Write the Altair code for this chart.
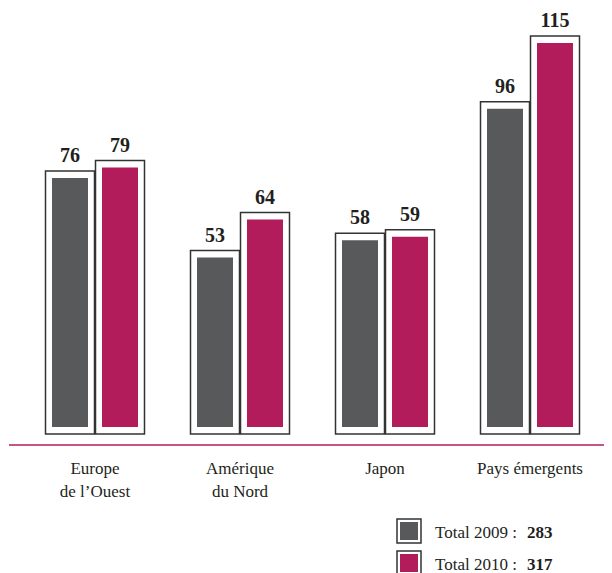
import altair as alt
import pandas as pd

categories = ["Europe de l’Ouest", "Amérique du Nord", "Japon", "Pays émergents"]
cat_labels = ["Europe\nde l’Ouest", "Amérique\ndu Nord", "Japon", "Pays émergents"]
years = ["2009", "2010"]
values_2009 = [76, 53, 58, 96]
values_2010 = [79, 64, 59, 115]
legend_labels = ["Total 2009 :", "Total 2010 :"]
totals = [283, 317]
colors = ["#58595b", "#b21c5b"]

rows = []
for i, c in enumerate(categories):
    rows.append({"cat": c, "year": "2009", "value": values_2009[i]})
    rows.append({"cat": c, "year": "2010", "value": values_2010[i]})
df = pd.DataFrame(rows)
cat_df = pd.DataFrame({"cat": categories, "label": cat_labels})
leg_df = pd.DataFrame({"year": years, "row": [0, 1], "label": legend_labels, "total": totals})

FONT = "Liberation Serif"
TXT = "#231f20"

x = alt.X("cat:N", sort=categories,
          scale=alt.Scale(domain=categories, range=[14.5, 594.5], paddingInner=0, paddingOuter=0),
          axis=None)
xo = alt.XOffset("year:N", scale=alt.Scale(domain=years, paddingInner=0, paddingOuter=0.45))
y = alt.Y("value:Q", scale=alt.Scale(domain=[0, 123.1], range=[426, 0]), axis=None)
color = alt.Color("year:N", scale=alt.Scale(domain=years, range=colors), legend=None)

base = alt.Chart(df)
frames = base.mark_bar(width=49, fill="white", stroke="#333333", strokeWidth=1.5).encode(
    x=x, xOffset=xo, y=y, y2=alt.datum(0))
inner = base.mark_bar(width=36, yOffset=7, y2Offset=-7).encode(
    x=x, xOffset=xo, y=y, y2=alt.datum(0), color=color)
labels = base.mark_text(dy=-9, baseline="alphabetic", font=FONT, fontSize=20,
                        fontWeight="bold", color=TXT).encode(
    x=x, xOffset=xo, y=y, text="value:Q")

baseline = alt.Chart(pd.DataFrame({"a": [0]})).mark_rule(color="#b21c5b", strokeWidth=1.5).encode(
    x=alt.value(1), x2=alt.value(596), y=alt.value(437))

cat_text = alt.Chart(cat_df).mark_text(lineBreak="\n", baseline="alphabetic", fontSize=17,
                                       font=FONT, color=TXT, lineHeight=23).encode(
    x=x, y=alt.value(466), text="label:N")

ly = alt.Y("row:Q", scale=alt.Scale(domain=[0, 1], range=[523, 555]), axis=None)
leg = alt.Chart(leg_df)
leg_frame = leg.mark_square(size=576, fill="white", stroke="#333333", strokeWidth=1.5, opacity=1).encode(
    x=alt.value(401), y=ly)
leg_fill = leg.mark_square(size=324, opacity=1).encode(x=alt.value(401), y=ly, color=color)
leg_text = leg.mark_text(align="left", baseline="alphabetic", dy=7, fontSize=17, font=FONT, color=TXT).encode(
    x=alt.value(427), y=ly, text="label:N")
leg_total = leg.mark_text(align="left", baseline="alphabetic", dy=7, fontSize=17, font=FONT,
                          fontWeight="bold", color=TXT).encode(
    x=alt.value(519), y=ly, text="total:Q")

chart = alt.layer(
    baseline, frames, inner, labels, cat_text, leg_frame, leg_fill, leg_text, leg_total
).resolve_scale(y="independent").properties(
    width=596, height=566, autosize=alt.AutoSizeParams(type="none"), padding=0
).configure_view(stroke=None)

chart.save("out.html", embed_options={"renderer": "svg", "actions": False})
